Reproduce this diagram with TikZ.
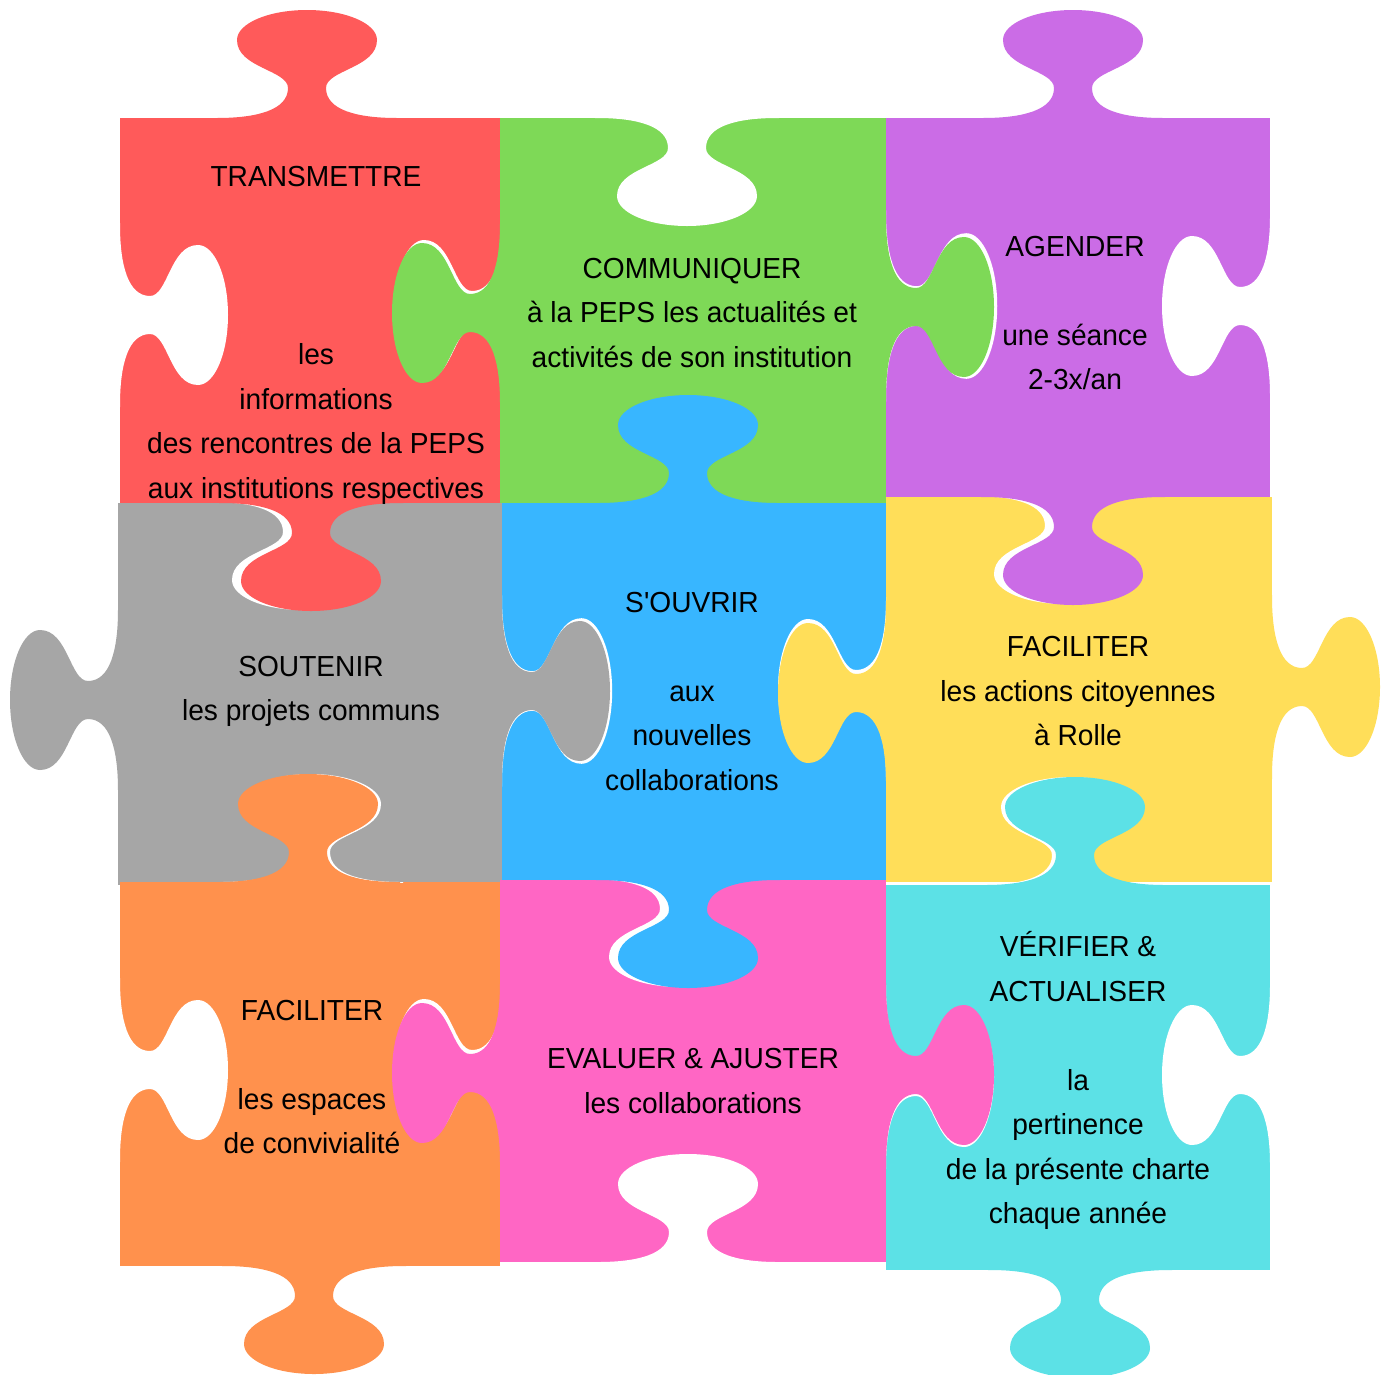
\documentclass[tikz,border=0pt]{standalone}
\usepackage{fontspec}
\newfontfamily\pfont{Liberation Sans}[FakeStretch=0.97]
\definecolor{cred}{HTML}{FF5A5A}
\definecolor{cgreen}{HTML}{7ED957}
\definecolor{cpurple}{HTML}{CB6CE6}
\definecolor{cgray}{HTML}{A6A6A6}
\definecolor{cblue}{HTML}{38B6FF}
\definecolor{cyellow}{HTML}{FFDE59}
\definecolor{corange}{HTML}{FF914D}
\definecolor{cpink}{HTML}{FF66C4}
\definecolor{ccyan}{HTML}{5CE1E6}
\newcommand\jig[1]{\fill[#1] (-92,5) -- (-92,0) -- (-90,0) .. controls (-50,0) and (-19,-8) .. (-19,-30) .. controls (-19,-48) and (-70,-50) .. (-70,-78) .. controls (-70,-94.6) and (-38.6,-108) .. (0,-108) .. controls (38.6,-108) and (70,-94.6) .. (70,-78) .. controls (70,-50) and (19,-48) .. (19,-30) .. controls (19,-8) and (50,0) .. (90,0) -- (92,0) -- (92,5) -- cycle;}
\newcommand\wjig[2]{\begin{scope}\clip #1; \jig{white,#2}\end{scope}}
\begin{document}
\begin{tikzpicture}[x=1pt,y=-1pt,
  txt/.style={font=\pfont\fontsize{29}{44.5}\selectfont,align=center,inner sep=0pt,text=black}]
\useasboundingbox (0,0) rectangle (1389,1374);
\fill[white] (0,0) rectangle (1389,1374);
% piece bodies
\fill[cred] (120,118) rectangle (500,503);
\fill[cgreen] (500,118) rectangle (886,503);
\fill[cpurple] (886,118) rectangle (1270,497);
\fill[cgray] (118,503) rectangle (502,885);
\fill[cblue] (502,503) rectangle (886,880);
\fill[cyellow] (886,497) rectangle (1272,882);
\fill[corange] (120,882) rectangle (500,1266);
\fill[cpink] (500,880) rectangle (886,1262);
\fill[ccyan] (886,885) rectangle (1270,1270);
% empty blanks on the outer border
\jig{white,shift={(120,315)},rotate=-90}
\jig{white,shift={(687,118)},rotate=180}
\jig{white,shift={(1270,306)},rotate=90}
\jig{white,shift={(120,1070)},rotate=-90}
\jig{white,shift={(688,1262)},rotate=0}
\jig{white,shift={(1270,1075)},rotate=90}
% outer tabs
\jig{cred,shift={(307,118)},rotate=0}
\jig{cpurple,shift={(1073,118)},rotate=0}
\jig{cgray,shift={(118,700)},rotate=90}
\jig{cyellow,shift={(1272,687)},rotate=-90}
\jig{corange,shift={(314,1266)},rotate=180}
\jig{ccyan,shift={(1080,1270)},rotate=180}
% white slivers under inner tabs
\wjig{(120,118) rectangle (500,503)}{shift={(502,310)},rotate=90}
\wjig{(118,503) rectangle (502,882)}{shift={(302,502)},rotate=180}
\wjig{(886,118) rectangle (1270,497)}{shift={(886,306)},rotate=-90,xscale=1.04,yscale=1.03}
\wjig{(886,497) rectangle (1272,882)}{shift={(1064,496)},rotate=180}
\wjig{(502,503) rectangle (886,880)}{shift={(502,691)},rotate=-90,xscale=1.04,yscale=1.02}
\wjig{(502,503) rectangle (886,880)}{shift={(886,689)},rotate=90}
\wjig{(118,503) rectangle (502,882)}{shift={(311,882)},rotate=0}
\wjig{(500,880) rectangle (886,1262)}{shift={(679,879)},rotate=180}
\wjig{(886,497) rectangle (1272,882)}{shift={(1071,885)},rotate=0}
\wjig{(120,882) rectangle (500,1266)}{shift={(502,1069)},rotate=90}
\wjig{(886,885) rectangle (1270,1270)}{shift={(886,1077)},rotate=-90}
% inner tabs
\jig{cgreen,shift={(500,313)},rotate=90}
\jig{cred,shift={(311,503)},rotate=180}
\jig{cgreen,shift={(886,307)},rotate=-90}
\jig{cblue,shift={(688,503)},rotate=0}
\jig{cpurple,shift={(1073,497)},rotate=180}
\jig{cgray,shift={(502,691)},rotate=-90}
\jig{cyellow,shift={(886,693)},rotate=90}
\jig{corange,shift={(308,882)},rotate=0}
\jig{cblue,shift={(688,880)},rotate=180}
\jig{ccyan,shift={(1075,885)},rotate=0}
\jig{cpink,shift={(500,1073)},rotate=90}
\jig{cpink,shift={(886,1075)},rotate=-90}
% texts
\node[txt] (t1) at (316,335.5) {TRANSMETTRE\\[133.5pt]les\\informations\\des rencontres de la PEPS\\aux institutions respectives};
\node[txt] (t2) at (692,313) {COMMUNIQUER\\à la PEPS les actualités et\\activités de son institution};
\node[txt] (t3) at (1075,313) {AGENDER\\[44.5pt]une séance\\2-3x/an};
\node[txt] (t4) at (311,691.5) {SOUTENIR\\les projets communs};
\node[txt] (t5) at (692,691.5) {S'OUVRIR\\[44.5pt]aux\\nouvelles\\collaborations};
\node[txt] (t6) at (1078,691.5) {FACILITER\\les actions citoyennes\\à Rolle};
\node[txt] (t7) at (312,1077) {FACILITER\\[44.5pt]les espaces\\de convivialité};
\node[txt] (t8) at (693,1081) {EVALUER \& AJUSTER\\les collaborations};
\node[txt] (t9) at (1078,1080.5) {VÉRIFIER \&\\ACTUALISER\\[44.5pt]la\\pertinence\\de la présente charte\\chaque année};
\end{tikzpicture}
\end{document}
